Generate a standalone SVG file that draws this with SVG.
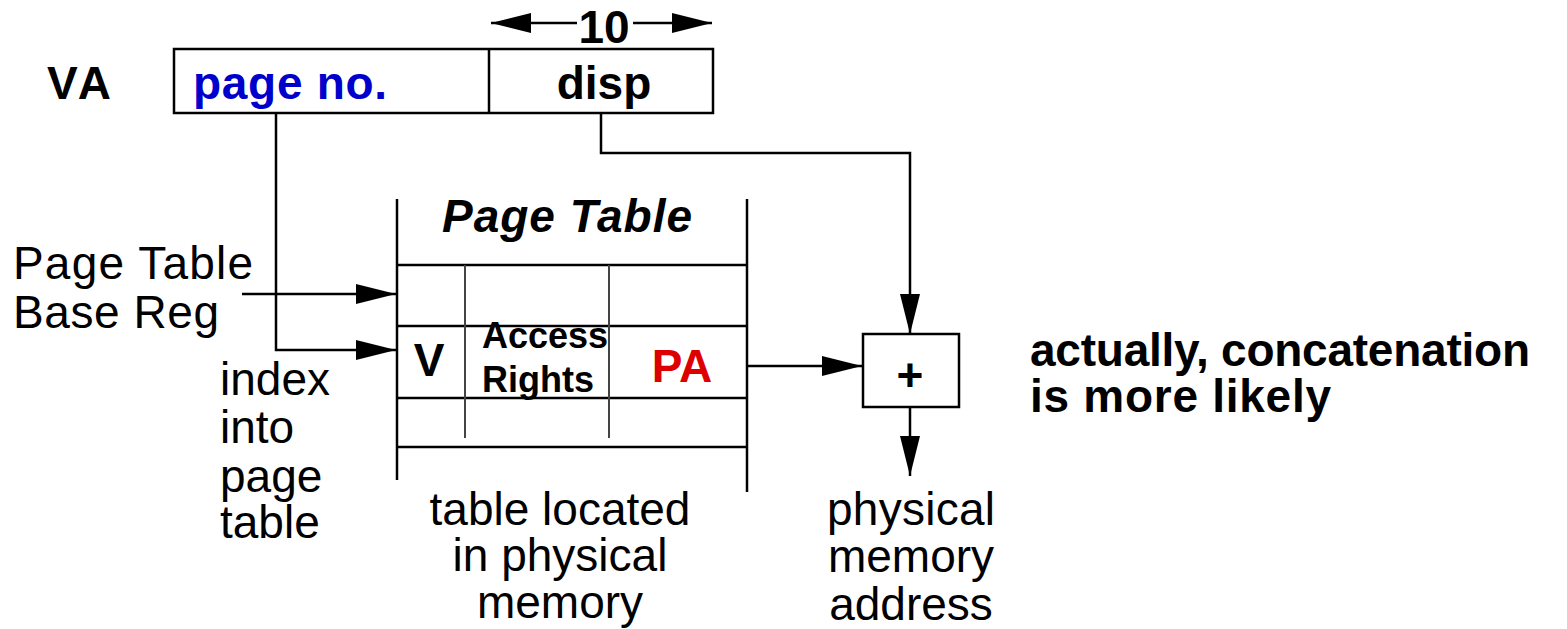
<svg xmlns="http://www.w3.org/2000/svg" width="1567" height="629" viewBox="0 0 1567 629">
<style>
text{font-family:"Liberation Sans",Arial,sans-serif;font-size:46px;fill:#000}
.b{font-weight:bold}
.m{text-anchor:middle}
.ln{stroke:#000;stroke-width:2.5;fill:none}
.in{stroke:#444;stroke-width:2;fill:none}
</style>
<defs>
<marker id="ah" markerUnits="userSpaceOnUse" markerWidth="40" markerHeight="20" refX="40" refY="10" orient="auto">
<path d="M0,0 L40,10 L0,20 z" fill="#000"/>
</marker>
</defs>
<rect width="1567" height="629" fill="#fff"/>
<g id="va-label"><text class="b" x="47" y="99" textLength="64">VA</text></g>
<g id="va-box">
<rect class="ln" x="174" y="49" width="539" height="64"/>
<line class="ln" x1="489" y1="49" x2="489" y2="113"/>
<text class="b" x="193" y="99" style="fill:#0000CC" textLength="194">page no.</text>
<text class="b m" x="604" y="99">disp</text>
</g>
<g id="width-label">
<text class="b m" x="604" y="43">10</text>
</g>
<g id="page-table">
<line class="ln" x1="397" y1="199" x2="397" y2="480"/>
<line class="ln" x1="747" y1="199" x2="747" y2="492"/>
<line class="ln" x1="397" y1="265" x2="747" y2="265"/>
<line class="ln" x1="397" y1="326" x2="747" y2="326"/>
<line class="ln" x1="397" y1="398" x2="747" y2="398"/>
<line class="ln" x1="397" y1="447" x2="747" y2="447"/>
<line class="in" x1="465" y1="265" x2="465" y2="438"/>
<line class="in" x1="609" y1="265" x2="609" y2="438"/>
<text class="b" x="442" y="232" style="font-style:italic" textLength="250">Page Table</text>
<text class="b m" x="429" y="376">V</text>
<text class="b" x="482" y="348" style="font-size:36px">Access</text>
<text class="b" x="482" y="392" style="font-size:36px">Rights</text>
<text class="b m" x="682" y="382" style="fill:#DD0000">PA</text>
</g>
<g id="adder">
<rect class="ln" x="863" y="334" width="96" height="73"/>
<text class="b m" x="910" y="391">+</text>
</g>
<g id="ptbr-label">
<text x="13" y="279" textLength="240">Page Table</text>
<text x="13" y="328" textLength="206">Base Reg</text>
</g>
<g id="index-label">
<text x="220" y="395">index</text>
<text x="220" y="443">into</text>
<text x="220" y="492">page</text>
<text x="220" y="538">table</text>
</g>
<g id="table-note">
<text class="m" x="560" y="525">table located</text>
<text class="m" x="560" y="571">in physical</text>
<text class="m" x="560" y="618">memory</text>
</g>
<g id="pma-label">
<text class="m" x="911" y="525" textLength="168">physical</text>
<text class="m" x="911" y="572">memory</text>
<text class="m" x="911" y="620">address</text>
</g>
<g id="concat-note">
<text class="b" x="1030" y="366" textLength="500">actually, concatenation</text>
<text class="b" x="1030" y="412" textLength="301">is more likely</text>
</g>
<g id="connectors">
<line class="ln" x1="577" y1="23" x2="491" y2="23" marker-end="url(#ah)"/>
<line class="ln" x1="633" y1="23" x2="712" y2="23" marker-end="url(#ah)"/>
<polyline class="ln" points="601,113 601,153 910,153 910,334" marker-end="url(#ah)"/>
<polyline class="ln" points="276,113 276,350 396,350" marker-end="url(#ah)"/>
<line class="ln" x1="242" y1="294" x2="396" y2="294" marker-end="url(#ah)"/>
<line class="ln" x1="747" y1="366" x2="862" y2="366" marker-end="url(#ah)"/>
<line class="ln" x1="910" y1="407" x2="910" y2="476" marker-end="url(#ah)"/>
</g>
</svg>
